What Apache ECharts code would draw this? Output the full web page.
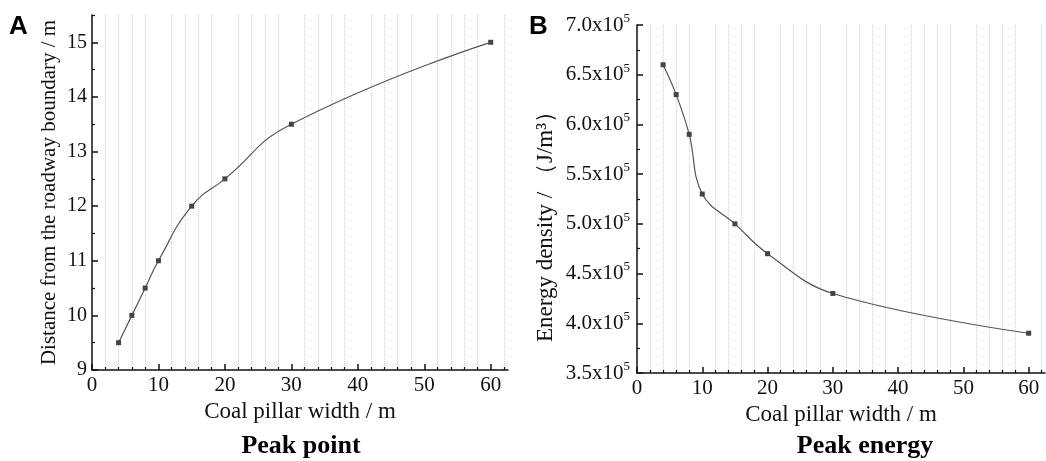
<!DOCTYPE html>
<html>
<head>
<meta charset="utf-8">
<script src="https://cdn.jsdelivr.net/npm/echarts@6/dist/echarts.min.js"></script>
<style>
  html, body { margin: 0; padding: 0; background: #fff; }
  #chart { width: 1046px; height: 461px; }
</style>
</head>
<body>
<div id="chart"></div>
<script>
// coal pillar width (m)
var widths = [4, 6, 8, 10, 15, 20, 30, 60];
// peak point distance from roadway boundary (m)
var peakDistance = [9.5, 10, 10.5, 11, 12, 12.5, 13.5, 15];
// peak energy density (J/m3)
var peakEnergy = [660000, 630000, 590000, 530000, 500000, 470000, 430000, 390000];

var xMajor = [0, 10, 20, 30, 40, 50, 60];
var xMinor = [2, 4, 6, 8, 12, 14, 16, 18, 22, 24, 26, 28, 32, 34, 36, 38, 42, 44, 46, 48, 52, 54, 56, 58, 62];
var yLeftMajor = [9, 10, 11, 12, 13, 14, 15];
var yLeftMinor = [9.5, 10.5, 11.5, 12.5, 13.5, 14.5, 15.5];

var serif = '"Liberation Serif", "Times New Roman", serif';
var black = '#111';

function pairs(xs, ys) {
    return xs.map(function (x, i) { return [x, ys[i]]; });
}

function mainX(gridIndex, max) {
    return {
        type: 'value', gridIndex: gridIndex, position: 'bottom', min: 0, max: max, interval: 2,
        name: 'Coal pillar width / m', nameLocation: 'middle', nameGap: 30,
        nameTextStyle: { fontFamily: serif, fontSize: 23, color: black },
        axisLine: { show: true, lineStyle: { color: black, width: 1.5 } },
        axisTick: { show: true, inside: true, length: 6, customValues: xMajor, lineStyle: { color: black, width: 1.5 } },
        axisLabel: { customValues: xMajor, margin: 5, fontFamily: serif, fontSize: 21, color: black },
        splitLine: { show: false }
    };
}

function minorX(gridIndex, max) {
    return {
        type: 'value', gridIndex: gridIndex, position: 'bottom', min: 0, max: max, interval: 2,
        axisLine: { show: false },
        axisTick: { show: true, inside: true, length: 3, customValues: xMinor, lineStyle: { color: black, width: 1.2 } },
        axisLabel: { show: false },
        splitLine: { show: true, lineStyle: { color: '#d0d0d0', type: 'dotted', width: 1 } }
    };
}

var lineStyle = { color: '#555', width: 1.2 };
var itemStyle = { color: '#444' };

var option = {
    animation: false,
    backgroundColor: '#fff',
    grid: [
        { left: 92, right: 538, top: 15, bottom: 91 },
        { left: 637, right: 1, top: 25, bottom: 88 }
    ],
    xAxis: [mainX(0, 62.6), minorX(0, 62.6), mainX(1, 62.5), minorX(1, 62.5)],
    yAxis: [
        {
            type: 'value', gridIndex: 0, min: 9, max: 15.5, interval: 1,
            name: 'Distance from the roadway boundary / m', nameLocation: 'middle', nameGap: 32,
            nameTextStyle: { fontFamily: serif, fontSize: 21, color: black },
            axisLine: { show: true, lineStyle: { color: black, width: 1.5 } },
            axisTick: { show: true, inside: true, length: 6, customValues: yLeftMajor, lineStyle: { color: black, width: 1.5 } },
            axisLabel: { customValues: yLeftMajor, margin: 5, fontFamily: serif, fontSize: 20, color: black },
            splitLine: { show: false }
        },
        {
            type: 'value', gridIndex: 0, position: 'left', min: 9, max: 15.5, interval: 0.5,
            axisLine: { show: false },
            axisTick: { show: true, inside: true, length: 3, customValues: yLeftMinor, lineStyle: { color: black, width: 1.2 } },
            axisLabel: { show: false },
            splitLine: { show: false }
        },
        {
            type: 'value', gridIndex: 1, min: 350000, max: 700000, interval: 50000,
            name: 'Energy density / （J/m³）', nameLocation: 'middle', nameGap: 80,
            nameTextStyle: { fontFamily: serif, fontSize: 23, color: black, padding: [0, 44, 0, 0] },
            axisLine: { show: true, lineStyle: { color: black, width: 1.5 } },
            axisTick: { show: true, inside: true, length: 6, lineStyle: { color: black, width: 1.5 } },
            minorTick: { show: true, splitNumber: 2, length: 3, lineStyle: { color: black, width: 1.2 } },
            axisLabel: {
                margin: 7,
                formatter: function (v) { return '{b|' + (v / 100000).toFixed(1) + 'x10}{s|5}'; },
                rich: {
                    b: { fontFamily: serif, fontSize: 21, color: black, lineHeight: 26 },
                    s: { fontFamily: serif, fontSize: 13, color: black, lineHeight: 26, verticalAlign: 'top' }
                }
            },
            splitLine: { show: false }
        }
    ],
    series: [
        {
            type: 'line', xAxisIndex: 0, yAxisIndex: 0, smooth: 0.5,
            data: pairs(widths, peakDistance),
            symbol: 'rect', symbolSize: 5, lineStyle: lineStyle, itemStyle: itemStyle
        },
        {
            type: 'line', xAxisIndex: 2, yAxisIndex: 2, smooth: 0.4,
            data: pairs(widths, peakEnergy),
            symbol: 'rect', symbolSize: 5, lineStyle: lineStyle, itemStyle: itemStyle
        }
    ],
    graphic: [
        { type: 'text', left: 9, top: 14, style: { text: 'A', font: 'bold 26px "Liberation Sans", Arial, sans-serif', fill: '#000' } },
        { type: 'text', left: 529, top: 14, style: { text: 'B', font: 'bold 26px "Liberation Sans", Arial, sans-serif', fill: '#000' } },
        { type: 'text', x: 301, y: 446, style: { text: 'Peak point', font: 'bold 26px "Liberation Serif", serif', fill: '#000', align: 'center', verticalAlign: 'middle' } },
        { type: 'text', x: 865, y: 446, style: { text: 'Peak energy', font: 'bold 26px "Liberation Serif", serif', fill: '#000', align: 'center', verticalAlign: 'middle' } }
    ]
};

var myChart = echarts.init(document.getElementById('chart'));
myChart.setOption(option);
</script>
</body>
</html>
